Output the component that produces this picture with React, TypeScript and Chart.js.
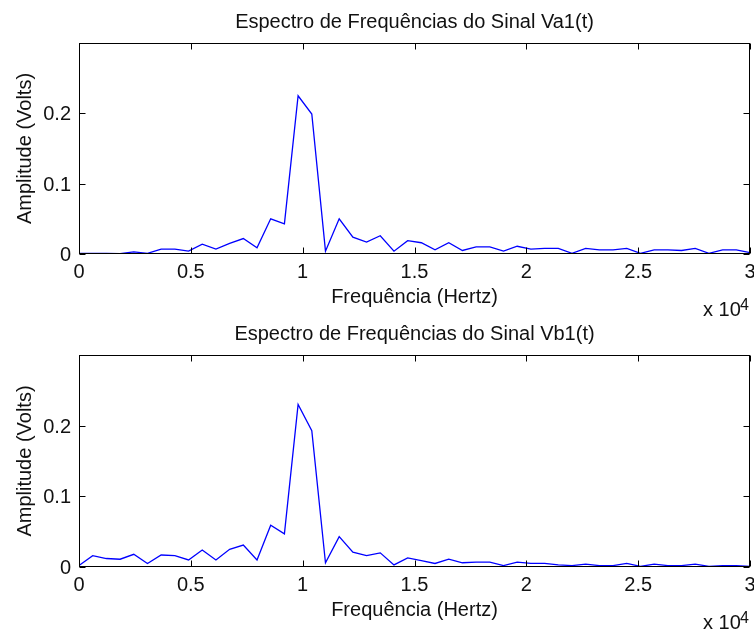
import React, { useEffect, useRef } from "react";
import { Chart, registerables } from "chart.js";

Chart.register(...registerables);

const freqs = [
  0, 612, 1224, 1837, 2449, 3061, 3673, 4286, 4898, 5510, 6122, 6735, 7347, 7959, 8571, 9184,
  9796, 10408, 11020, 11633, 12245, 12857, 13469, 14082, 14694, 15306, 15918, 16531, 17143,
  17755, 18367, 18980, 19592, 20204, 20816, 21429, 22041, 22653, 23265, 23878, 24490, 25102,
  25714, 26327, 26939, 27551, 28163, 28776, 29388, 30000,
];

const va1 = [
  0.001, 0.001, 0.001, 0.0005, 0.003, 0.001, 0.007, 0.007, 0.004, 0.014, 0.007, 0.015, 0.022,
  0.009, 0.05, 0.043, 0.225, 0.199, 0.004, 0.05, 0.024, 0.017, 0.026, 0.004, 0.019, 0.016,
  0.006, 0.016, 0.005, 0.01, 0.01, 0.004, 0.011, 0.007, 0.008, 0.008, 0.001, 0.008, 0.006,
  0.006, 0.008, 0.001, 0.006, 0.006, 0.005, 0.008, 0.001, 0.006, 0.006, 0.002,
];

const vb1 = [
  0.002, 0.016, 0.012, 0.011, 0.018, 0.005, 0.017, 0.016, 0.01, 0.024, 0.01, 0.025, 0.031,
  0.01, 0.059, 0.047, 0.23, 0.193, 0.006, 0.043, 0.021, 0.016, 0.02, 0.003, 0.013, 0.009,
  0.005, 0.011, 0.006, 0.007, 0.007, 0.002, 0.007, 0.005, 0.005, 0.003, 0.002, 0.004, 0.002,
  0.002, 0.005, 0.001, 0.004, 0.002, 0.002, 0.004, 0.001, 0.002, 0.002, 0.001,
];

const xTicks = [0, 5000, 10000, 15000, 20000, 25000, 30000];
const xTickLabels = ["0", "0.5", "1", "1.5", "2", "2.5", "3"];
const yTicks = [0, 0.1, 0.2];
const yTickLabels = ["0", "0.1", "0.2"];

const titleA = "Espectro de Frequências do Sinal Va1(t)";
const titleB = "Espectro de Frequências do Sinal Vb1(t)";
const xTitle = "Frequência (Hertz)";
const yTitle = "Amplitude (Volts)";

const FONT = "'Liberation Sans', Arial, sans-serif";

function makeChart(canvas: HTMLCanvasElement, title: string, values: number[], topPad: number, xH: number) {
  const deco = {
    id: "matlabDeco",
    afterDraw(chart: any) {
      const ctx = chart.ctx as CanvasRenderingContext2D;
      const { left, right, top, bottom } = chart.chartArea;
      const xs = chart.scales.x;
      const ys = chart.scales.y;
      const L = Math.round(left) + 0.5;
      const R = Math.round(right) - 0.5;
      const T = Math.round(top) + 0.5;
      const B = Math.round(bottom) - 0.5;
      ctx.save();
      ctx.strokeStyle = "#000";
      ctx.lineWidth = 1;
      ctx.strokeRect(L, T, R - L, B - T);
      const tl = 6;
      ctx.beginPath();
      xTicks.forEach((v) => {
        const px = Math.round(xs.getPixelForValue(v)) + 0.5;
        ctx.moveTo(px, B);
        ctx.lineTo(px, B - tl);
        ctx.moveTo(px, T);
        ctx.lineTo(px, T + tl);
      });
      yTicks.forEach((v) => {
        const py = Math.round(ys.getPixelForValue(v)) + 0.5;
        ctx.moveTo(L, py);
        ctx.lineTo(L + tl, py);
        ctx.moveTo(R, py);
        ctx.lineTo(R - tl, py);
      });
      ctx.stroke();

      ctx.fillStyle = "#111";
      ctx.font = `20px ${FONT}`;
      ctx.textBaseline = "alphabetic";
      ctx.textAlign = "center";
      xTicks.forEach((v, i) => {
        ctx.fillText(xTickLabels[i], xs.getPixelForValue(v), bottom + 24);
      });
      ctx.textAlign = "right";
      yTicks.forEach((v, i) => {
        ctx.fillText(yTickLabels[i], left - 8, ys.getPixelForValue(v) + 7);
      });
      ctx.textAlign = "center";
      const cx = (left + right) / 2;
      ctx.fillText(title, cx, top - 15);
      ctx.fillText(xTitle, cx, bottom + 49);
      ctx.textAlign = "left";
      ctx.fillText("x 10", 703, bottom + 62);
      ctx.font = `16px ${FONT}`;
      ctx.fillText("4", 740, bottom + 56);
      ctx.font = `20px ${FONT}`;
      ctx.translate(31, (top + bottom) / 2);
      ctx.rotate(-Math.PI / 2);
      ctx.textAlign = "center";
      ctx.fillText(yTitle, 0, 0);
      ctx.restore();
    },
  };

  return new Chart(canvas, {
    type: "line",
    data: {
      datasets: [
        {
          data: freqs.map((f, i) => ({ x: f, y: values[i] })),
          borderColor: "#0000ff",
          borderWidth: 1.3,
          pointRadius: 0,
          tension: 0,
          fill: false,
        },
      ],
    },
    options: {
      responsive: false,
      animation: false,
      devicePixelRatio: 1,
      layout: { padding: { top: topPad, right: 4, left: 0, bottom: 0 } },
      plugins: {
        legend: { display: false },
        tooltip: { enabled: false },
        title: { display: false },
      },
      scales: {
        x: {
          type: "linear",
          min: 0,
          max: 30000,
          grid: { display: false },
          border: { display: false },
          ticks: { display: false },
          afterBuildTicks: (s: any) => {
            s.ticks = xTicks.map((v) => ({ value: v }));
          },
          afterFit: (s: any) => {
            s.height = xH;
          },
        },
        y: {
          type: "linear",
          min: 0,
          max: 0.3,
          grid: { display: false },
          border: { display: false },
          ticks: { display: false },
          afterBuildTicks: (s: any) => {
            s.ticks = yTicks.map((v) => ({ value: v }));
          },
          afterFit: (s: any) => {
            s.width = 79;
          },
        },
      },
    } as any,
    plugins: [deco],
  });
}

export default function App() {
  const topRef = useRef<HTMLCanvasElement>(null);
  const botRef = useRef<HTMLCanvasElement>(null);

  useEffect(() => {
    const c1 = makeChart(topRef.current!, titleA, va1, 43, 62);
    const c2 = makeChart(botRef.current!, titleB, vb1, 39, 66);
    return () => {
      c1.destroy();
      c2.destroy();
    };
  }, []);

  return (
    <div style={{ position: "absolute", left: 0, top: 0, width: 754, height: 633, background: "#fff" }}>
      <canvas ref={topRef} width={754} height={316} style={{ position: "absolute", left: 0, top: 0, width: 754, height: 316 }} />
      <canvas ref={botRef} width={754} height={317} style={{ position: "absolute", left: 0, top: 316, width: 754, height: 317 }} />
    </div>
  );
}
